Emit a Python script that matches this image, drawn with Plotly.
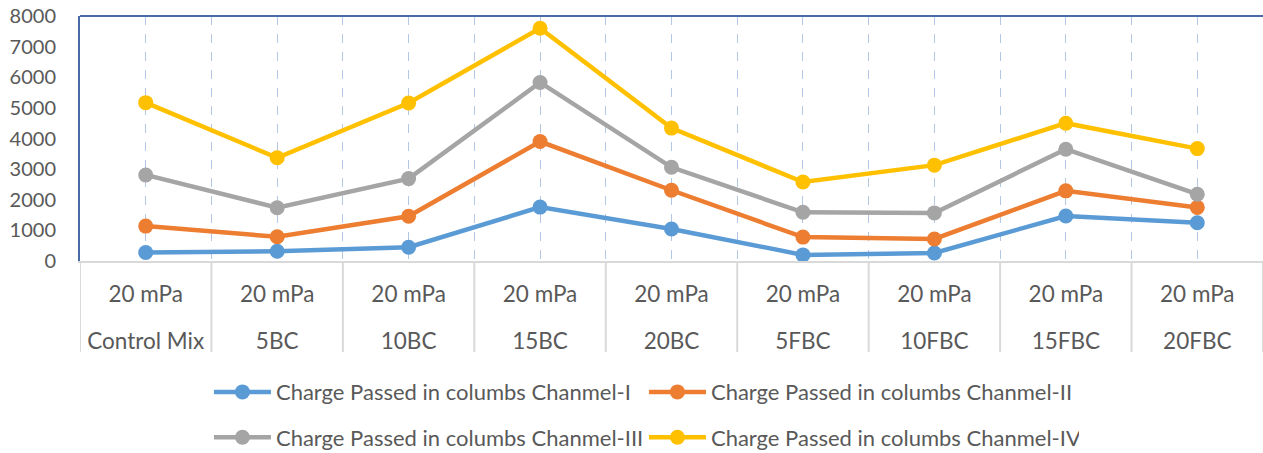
import plotly.graph_objects as go

# Mix designs (outer labels) and test pressure (inner labels)
mixes = ["Control Mix", "5BC", "10BC", "15BC", "20BC", "5FBC", "10FBC", "15FBC", "20FBC"]
pressure = ["20 mPa"] * len(mixes)

# Charge passed (coulombs) per channel
chanmel_1 = [280, 320, 450, 1760, 1045, 200, 260, 1470, 1250]
chanmel_2 = [1140, 790, 1460, 3900, 2310, 780, 720, 2290, 1750]
chanmel_3 = [2810, 1740, 2690, 5830, 3060, 1590, 1570, 3650, 2180]
chanmel_4 = [5170, 3370, 5160, 7600, 4340, 2580, 3130, 4500, 3670]

series = [
    ("Charge Passed in columbs Chanmel-I", chanmel_1, "#5B9BD5", "legend"),
    ("Charge Passed in columbs Chanmel-II", chanmel_2, "#ED7D31", "legend"),
    ("Charge Passed in columbs Chanmel-III", chanmel_3, "#A5A5A5", "legend2"),
    ("Charge Passed in columbs Chanmel-IV", chanmel_4, "#FFC000", "legend2"),
]

FONT = "Lato"
TXT = "#595959"
AX = 22.5
LEG = 22

xs = list(range(len(mixes)))
n = len(mixes)
fig = go.Figure()
for name, vals, col, leg in series:
    fig.add_trace(go.Scatter(
        x=xs, y=vals, name=name, mode="lines+markers",
        line=dict(color=col, width=4.5),
        marker=dict(color=col, size=15),
        legend=leg,
    ))

# empty trace so the second (mix design) label row is drawn
fig.add_trace(go.Scatter(x=xs, y=[None] * n, xaxis="x2", yaxis="y",
                         mode="markers", showlegend=False, hoverinfo="skip"))

shapes = []
# category dividers below the axis
for i in range(n + 1):
    shapes.append(dict(type="line", xref="x", yref="paper",
                       x0=i - 0.5, x1=i - 0.5, y0=0, y1=-0.372,
                       line=dict(color="#D9D9D9", width=2)))
# top border of the plot area
shapes.append(dict(type="line", xref="paper", yref="paper",
                   x0=0, x1=1, y0=1, y1=1,
                   line=dict(color="#4A6BA8", width=2)))

legend_style = dict(orientation="h", x=0.109, xanchor="left", yanchor="middle",
                    entrywidth=363, entrywidthmode="pixels", itemwidth=57,
                    font=dict(family=FONT, size=LEG, color=TXT),
                    bgcolor="rgba(0,0,0,0)")

fig.update_layout(
    width=1263, height=453,
    margin=dict(l=80, r=0, t=16, b=192, autoexpand=False),
    paper_bgcolor="white", plot_bgcolor="white",
    font=dict(family=FONT, size=AX, color=TXT),
    shapes=shapes,
    # inner row: test pressure
    xaxis=dict(
        range=[-0.5, n - 0.5], automargin=False,
        tickmode="array", tickvals=xs, ticktext=pressure,
        showgrid=True, gridcolor="#B4C7E7", griddash="dash", gridwidth=1,
        minor=dict(tickmode="array", tickvals=[i + 0.5 for i in range(n - 1)],
                   showgrid=True, gridcolor="#B4C7E7", griddash="dash", gridwidth=1),
        showline=True, linecolor="#D9D9D9", linewidth=2,
        ticks="", zeroline=False,
        tickfont=dict(family=FONT, size=AX, color=TXT),
        ticklabelstandoff=12,
    ),
    # outer row: mix design
    xaxis2=dict(
        overlaying="x", anchor="y", side="bottom", automargin=False,
        range=[-0.5, n - 0.5],
        tickmode="array", tickvals=xs, ticktext=mixes,
        showgrid=False, showline=False, zeroline=False, ticks="",
        tickfont=dict(family=FONT, size=AX, color=TXT),
        ticklabelstandoff=64,
    ),
    yaxis=dict(
        range=[0, 8000], dtick=1000, tick0=0, automargin=False,
        showgrid=False, zeroline=False,
        showline=True, linecolor="#4A6BA8", linewidth=2,
        ticks="", ticklabelstandoff=18,
        tickfont=dict(family=FONT, size=20, color=TXT),
    ),
    legend=dict(y=-0.535, **legend_style),
    legend2=dict(y=-0.72, **legend_style),
)

fig.write_html("out.html")
